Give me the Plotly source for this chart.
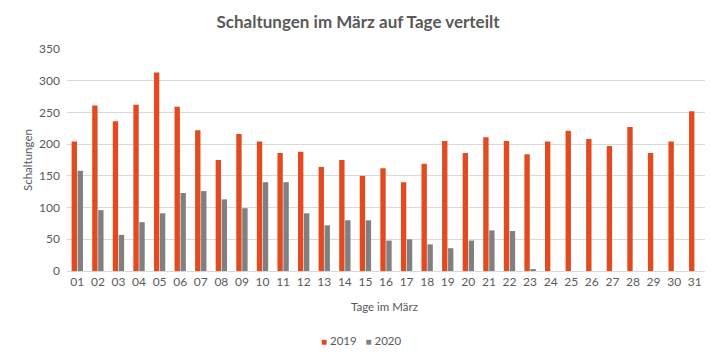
import plotly.graph_objects as go

days = [f"{d:02d}" for d in range(1, 32)]
v2019 = [204, 261, 236, 262, 313, 259, 222, 175, 216, 204,
         186, 188, 164, 175, 150, 162, 140, 169, 205, 186,
         211, 205, 184, 204, 221, 208, 197, 227, 186, 204, 252]
v2020 = [158, 96, 57, 77, 91, 123, 126, 113, 99, 140,
         140, 91, 72, 80, 80, 48, 50, 42, 36, 48,
         64, 63, 3, None, None, None, None, None, None, None, None]
series_names = ["2019", "2020"]
colors = ["#E24A1F", "#808080"]

font = "Lato, Calibri, 'Open Sans', sans-serif"
txt = "#595959"

fig = go.Figure()
for name, vals, col in zip(series_names, [v2019, v2020], colors):
    fig.add_bar(x=days, y=vals, name=name, marker_color=col, marker_line_width=0,
                showlegend=False)

legend_text = "   ".join(
    f"<span style='color:{c};font-size:10px'>■</span> {n}"
    for n, c in zip(series_names, colors))

# page body has an 8px margin, so figure is 712x354 placed at (8,8)
fig.update_layout(
    width=712, height=354,
    paper_bgcolor="white", plot_bgcolor="white",
    margin=dict(l=59, r=15, t=41, b=91, autoexpand=False),
    barmode="group", bargap=0.42, bargroupgap=0.1,
    font=dict(family=font, color=txt, size=12),
    showlegend=False,
    title=dict(text="<b>Schaltungen im März auf Tage verteilt</b>",
               x=0.4916, xanchor="center", y=0.96, yanchor="middle",
               font=dict(size=17, color=txt, family=font)),
    yaxis=dict(range=[0, 350], dtick=50, showgrid=True, gridcolor="#D9D9D9",
               gridwidth=1, zeroline=False, showline=False, ticks="",
               automargin=False, ticklabelstandoff=6,
               tickfont=dict(size=12, color=txt)),
    xaxis=dict(showline=True, linecolor="#D9D9D9", linewidth=1, ticks="",
               automargin=False,
               tickfont=dict(size=12, color=txt)),
    annotations=[
        dict(text="Schaltungen", textangle=-90, xref="paper", yref="paper",
             x=-0.0627, y=0.5, xanchor="center", yanchor="middle", showarrow=False,
             font=dict(size=11.5, color=txt)),
        dict(text="Tage im März", xref="paper", yref="paper",
             x=0.498, y=-0.162, xanchor="center", yanchor="middle", showarrow=False,
             font=dict(size=11.5, color=txt)),
        dict(text=legend_text, xref="paper", yref="paper",
             x=0.461, y=-0.315, xanchor="center", yanchor="middle", showarrow=False,
             font=dict(size=11.5, color=txt)),
    ],
)

fig.write_html("out.html")
